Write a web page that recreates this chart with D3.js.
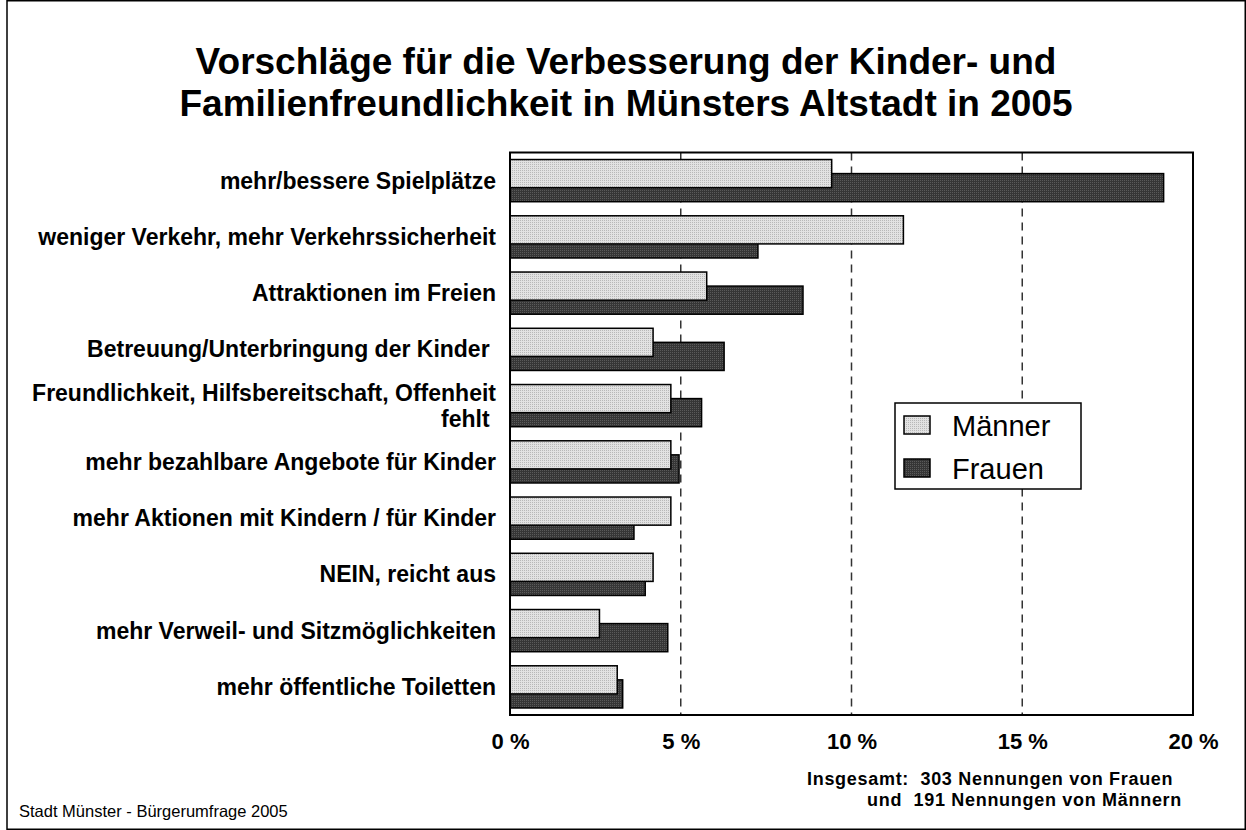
<!DOCTYPE html>
<html>
<head>
<meta charset="utf-8">
<script src="https://cdn.jsdelivr.net/npm/d3@7"></script>
<style>
  body { margin: 0; background: #fff; }
  text { font-family: Arial, "Liberation Sans", sans-serif; fill: #000; }
</style>
</head>
<body>
<div id="chart"></div>
<script>
const W = 1246;
const H = 830;

// data (percent of mentions)
const categories = [
    "mehr/bessere Spielplätze",
    "weniger Verkehr, mehr Verkehrssicherheit",
    "Attraktionen im Freien",
    "Betreuung/Unterbringung der Kinder ",
    "Freundlichkeit, Hilfsbereitschaft, Offenheit|fehlt ",
    "mehr bezahlbare Angebote für Kinder",
    "mehr Aktionen mit Kindern / für Kinder",
    "NEIN, reicht aus",
    "mehr Verweil- und Sitzmöglichkeiten",
    "mehr öffentliche Toiletten"
];
const maenner = [9.42, 11.52, 5.76, 4.19, 4.71, 4.71, 4.71, 4.19, 2.62, 3.14];
const frauen = [19.14, 7.26, 8.58, 6.27, 5.61, 4.95, 3.63, 3.96, 4.62, 3.30];
const seriesNames = ["Männer", "Frauen"];
const xTicks = [0, 5, 10, 15, 20];
const titleLines = [
    "Vorschläge für die Verbesserung der Kinder- und",
    "Familienfreundlichkeit in Münsters Altstadt in 2005"
];
const noteLines = [
    "Insgesamt:  303 Nennungen von Frauen",
    "und  191 Nennungen von Männern"
];
const sourceText = "Stadt Münster - Bürgerumfrage 2005";

// plot frame
const plotLeft = 510, plotRight = 1193, plotTop = 152.5, plotBottom = 715;

const svg = d3.select("#chart")
    .append("svg")
    .attr("width", W)
    .attr("height", H);

// dotted fills
const defs = svg.append("defs");
function dotPattern(id, base, dot) {
    const p = defs.append("pattern")
        .attr("id", id)
        .attr("width", 2)
        .attr("height", 2)
        .attr("patternUnits", "userSpaceOnUse");
    p.append("rect").attr("width", 2).attr("height", 2).attr("fill", base);
    p.append("rect").attr("width", 1).attr("height", 1).attr("fill", dot);
}
dotPattern("patM", "#e2e2e2", "#b8b8b8");
dotPattern("patF", "#363636", "#5a5a5a");

// outer border
svg.append("rect")
    .attr("x", 7).attr("y", 0.75)
    .attr("width", W - 7.75).attr("height", H - 1.5)
    .attr("fill", "none")
    .attr("stroke", "#000")
    .attr("stroke-width", 1.5);

// title
svg.append("g")
    .selectAll("text")
    .data(titleLines)
    .enter()
    .append("text")
    .attr("x", 626)
    .attr("y", (d, i) => 74 + i * 42)
    .attr("text-anchor", "middle")
    .style("font-size", "37px")
    .style("font-weight", "bold")
    .text(d => d);

// scales
const x = d3.scaleLinear()
    .domain([0, 20])
    .range([plotLeft, plotRight]);

const y = d3.scaleBand()
    .domain(categories)
    .range([plotTop, plotBottom])
    .padding(0);

const bw = y.bandwidth();

// dashed gridlines
svg.append("g")
    .selectAll("line")
    .data(xTicks.filter(d => d > 0 && d < 20))
    .enter()
    .append("line")
    .attr("x1", d => x(d))
    .attr("x2", d => x(d))
    .attr("y1", plotTop)
    .attr("y2", plotBottom)
    .attr("stroke", "#333")
    .attr("stroke-width", 1.5)
    .attr("stroke-dasharray", "8,6");

// bars: Frauen behind, Männer in front
const rows = categories.map((c, i) => ({ cat: c, m: maenner[i], f: frauen[i] }));

svg.append("g")
    .selectAll("rect")
    .data(rows)
    .enter()
    .append("rect")
    .attr("x", x(0))
    .attr("y", d => y(d.cat) + bw * 0.375)
    .attr("width", d => x(d.f) - x(0))
    .attr("height", bw * 0.5)
    .attr("fill", "url(#patF)")
    .attr("stroke", "#000")
    .attr("stroke-width", 1.5);

svg.append("g")
    .selectAll("rect")
    .data(rows)
    .enter()
    .append("rect")
    .attr("x", x(0))
    .attr("y", d => y(d.cat) + bw * 0.125)
    .attr("width", d => x(d.m) - x(0))
    .attr("height", bw * 0.5)
    .attr("fill", "url(#patM)")
    .attr("stroke", "#000")
    .attr("stroke-width", 1.5);

// plot border
svg.append("rect")
    .attr("x", plotLeft).attr("y", plotTop)
    .attr("width", plotRight - plotLeft).attr("height", plotBottom - plotTop)
    .attr("fill", "none")
    .attr("stroke", "#000")
    .attr("stroke-width", 2);

// x tick labels
const xAxis = d3.axisBottom(x)
    .tickValues(xTicks)
    .tickSize(0)
    .tickPadding(0)
    .tickFormat(d => d + " %");

const gx = svg.append("g")
    .attr("transform", `translate(0,${plotBottom})`)
    .call(xAxis);
gx.select(".domain").remove();
gx.selectAll("text")
    .attr("y", 34)
    .attr("dy", null)
    .style("font-family", "Arial, 'Liberation Sans', sans-serif")
    .style("font-size", "22px")
    .style("font-weight", "bold")
    .attr("fill", "#000");

// category labels (may wrap with "|")
const labels = svg.append("g")
    .selectAll("text")
    .data(categories)
    .enter()
    .append("text")
    .attr("text-anchor", "end")
    .style("font-size", "23px")
    .style("font-weight", "bold")
    .style("white-space", "pre")
    .attr("transform", d => {
        const n = d.split("|").length;
        const cy = y(d) + bw / 2 - (n - 1) * 13 + 8;
        return `translate(496,${cy})`;
    });

labels.selectAll("tspan")
    .data(d => d.split("|"))
    .enter()
    .append("tspan")
    .attr("x", 0)
    .attr("y", (d, i) => i * 26)
    .text(d => d);

// legend
const legend = svg.append("g").attr("transform", "translate(895,403)");
legend.append("rect")
    .attr("width", 186).attr("height", 86)
    .attr("fill", "#fff")
    .attr("stroke", "#000")
    .attr("stroke-width", 1.5);

const li = legend.selectAll(".item")
    .data(seriesNames)
    .enter()
    .append("g")
    .attr("class", "item")
    .attr("transform", (d, i) => `translate(9,${13 + i * 43})`);

li.append("rect")
    .attr("width", 26).attr("height", 18)
    .attr("fill", (d, i) => i === 0 ? "url(#patM)" : "url(#patF)")
    .attr("stroke", "#000")
    .attr("stroke-width", 1.5);

li.append("text")
    .attr("x", 48)
    .attr("y", 20)
    .style("font-size", "29px")
    .text(d => d);

// footnotes
svg.append("g")
    .selectAll("text")
    .data(noteLines)
    .enter()
    .append("text")
    .attr("x", (d, i) => i === 0 ? 807 : 867)
    .attr("y", (d, i) => 785 + i * 20.5)
    .style("font-size", "18px")
    .style("letter-spacing", "0.7px")
    .style("font-weight", "bold")
    .style("white-space", "pre")
    .text(d => d);

svg.append("text")
    .attr("x", 19)
    .attr("y", 817)
    .style("font-size", "16.5px")
    .text(sourceText);
</script>
</body>
</html>
